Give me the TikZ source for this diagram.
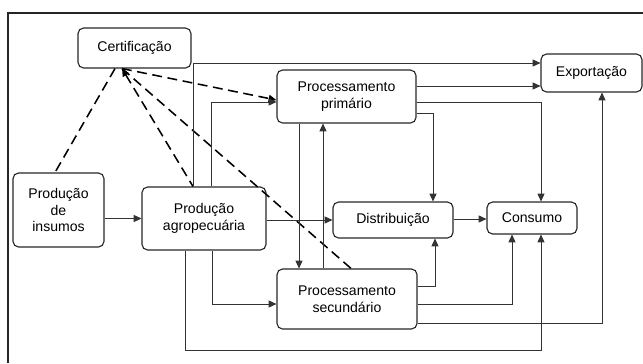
\documentclass[tikz,border=0pt]{standalone}
\usepackage{fontspec}
\setmainfont{Liberation Sans}
\usetikzlibrary{arrows.meta}
\tikzset{
	box/.style={draw=black!85, line width=0.8pt, rounded corners=4pt, align=center, inner sep=2pt, font=\fontsize{10}{11.7}\selectfont},
	flow/.style={draw=black!80, line width=0.5pt, -{Triangle[length=5.5pt,width=5pt]}},
	certline/.style={draw=black, line width=1.1pt, dash pattern=on 7pt off 4pt}
}
\begin{document}
\begin{tikzpicture}[x=0.025cm, y=-0.025cm]
		\useasboundingbox (0,0) rectangle (643,363);
		\draw[draw=black!85, line width=0.8pt] (8,363) -- (8,13) -- (643,13);
		\node[box, minimum width=2.825cm, minimum height=1.0cm] (cert) at (134.5,48) {Certificação};
		\node[box, minimum width=2.275cm, minimum height=1.85cm] (insumos) at (58.5,210) {Produção\\de\\insumos};
		\node[box, minimum width=3.1cm, minimum height=1.575cm] (agro) at (204,218.5) {Produção\\agropecuária};
		\node[box, minimum width=3.475cm, minimum height=1.325cm] (prim) at (346.5,96.5) {Processamento\\primário};
		\node[box, minimum width=3.5cm, minimum height=1.5cm] (sec) at (347,299) {Processamento\\secundário};
		\node[box, minimum width=3.0cm, minimum height=0.9cm] (dist) at (393,220) {Distribuição};
		\node[box, minimum width=2.25cm, minimum height=0.8cm] (cons) at (532,218) {Consumo};
		\node[box, minimum width=2.525cm, minimum height=0.95cm] (exp) at (591.5,73) {Exportação};
		\draw[certline] (cert.south -| 115,0) -- (insumos.north -| 55,0);
		\draw[certline, {Triangle[length=5.5pt,width=5pt]}-] (cert.south -| 122,0) -- (agro.north -| 193,0);
		\draw[certline, -{Triangle[length=5.5pt,width=5pt]}] (cert.south -| 122,0) -- (prim.west |- 0,100);
		\draw[certline] (cert.south -| 122,0) -- (sec.north -| 351,0);
		\draw[flow] (insumos.east |- agro.west) -- (agro.west);
		\draw[flow] (agro.east |- dist.west) -- (dist.west);
		\draw[flow] (dist.east |- 0,219) -- (cons.west |- 0,219);
		\draw[flow] (agro.north -| 193,0) |- (exp.west |- 0,63);
		\draw[flow] (agro.north -| 211,0) |- (prim.west |- 0,102);
		\draw[flow] (prim.east |- 0,86) -- (exp.west |- 0,86);
		\draw[flow] (prim.east |- 0,102) -| (cons.north -| 541,0);
		\draw[flow] (prim.east |- 0,113) -| (dist.north -| 433,0);
		\draw[flow] (prim.south -| 299,0) -- (sec.north -| 299,0);
		\draw[flow] (sec.north -| 323,0) -- (prim.south -| 323,0);
		\draw[flow] (agro.south -| 212,0) |- (sec.west |- 0,304);
		\draw[flow] (agro.south -| 185,0) -- (185,350) -| (cons.south -| 541,0);
		\draw[flow] (sec.east |- 0,286) -| (dist.south -| 435,0);
		\draw[flow] (sec.east |- 0,304) -| (cons.south -| 512,0);
		\draw[flow] (sec.east |- 0,323) -| (exp.south -| 602,0);
\end{tikzpicture}
\end{document}
